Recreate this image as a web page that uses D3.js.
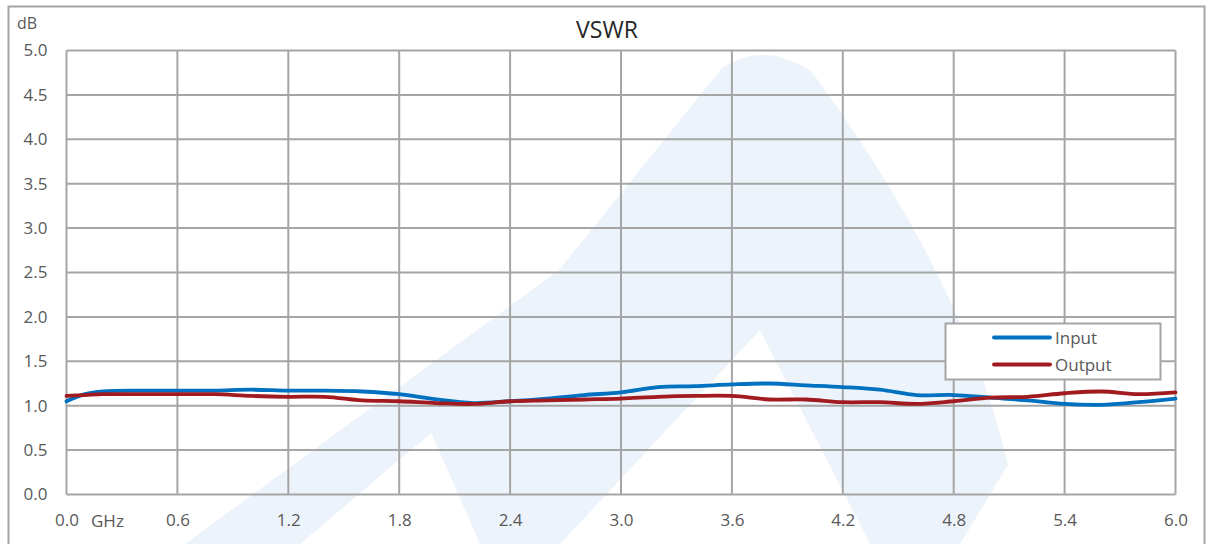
<!DOCTYPE html>
<html lang="en">
<head>
    <meta charset="UTF-8">
    <title>VSWR</title>
    <script src="https://cdn.jsdelivr.net/npm/d3@7"></script>
    <style>
        body { margin: 0; background: white; }
        svg { display: block; font-family: 'Open Sans', sans-serif; }
        .tick text { fill: #595959; font-size: 17px; }
    </style>
</head>
<body>
    <div id="chart"></div>
    <script>
        // Frequency points (GHz)
        const freqs = [0, 0.1, 0.2, 0.4, 0.6, 0.8, 1.0, 1.2, 1.4, 1.6, 1.8, 2.0, 2.2, 2.4, 2.6, 2.8,
            3.0, 3.2, 3.4, 3.6, 3.8, 4.0, 4.2, 4.4, 4.6, 4.8, 5.0, 5.2, 5.4, 5.6, 5.8, 6.0];

        // VSWR readings
        const inputVals = [1.05, 1.13, 1.16, 1.17, 1.17, 1.17, 1.18, 1.17, 1.17, 1.16, 1.13, 1.07, 1.03, 1.05, 1.08, 1.12,
            1.15, 1.21, 1.22, 1.24, 1.25, 1.23, 1.21, 1.18, 1.12, 1.12, 1.09, 1.06, 1.02, 1.01, 1.04, 1.08];
        const outputVals = [1.11, 1.12, 1.13, 1.13, 1.13, 1.13, 1.11, 1.10, 1.10, 1.06, 1.05, 1.03, 1.02, 1.05, 1.06, 1.07,
            1.08, 1.10, 1.11, 1.11, 1.07, 1.07, 1.04, 1.04, 1.02, 1.05, 1.09, 1.10, 1.14, 1.16, 1.13, 1.15];

        const xTicks = [0, 0.6, 1.2, 1.8, 2.4, 3.0, 3.6, 4.2, 4.8, 5.4, 6.0];
        const yTicks = [0, 0.5, 1.0, 1.5, 2.0, 2.5, 3.0, 3.5, 4.0, 4.5, 5.0];

        const series = [
            { name: "Input", values: inputVals, color: "#0070C0" },
            { name: "Output", values: outputVals, color: "#A01A1F" }
        ];

        const width = 1213, height = 544;
        const margin = { left: 66.5, right: 1213 - 1175.5, top: 50.5, bottom: 544 - 494.5 };
        const gridColor = "#A5A5A5";

        const svg = d3.select("#chart").append("svg")
            .attr("width", width).attr("height", height);

        // chart frame
        svg.append("rect")
            .attr("x", 8.5).attr("y", 6.5)
            .attr("width", 1196).attr("height", 560)
            .attr("fill", "white").attr("stroke", gridColor).attr("stroke-width", 2);

        // faint watermark logo
        const wm = svg.append("g").attr("fill", "#EDF3FA");
        wm.append("path").attr("d", "M185,544 L648,205 L680,222 L300,544 Z");
        wm.append("path").attr("d", "M430,430 L722,68 Q765,40 812,72 Q965,280 1008,465 L960,544 L870,544 L760,330 L560,544 L480,544 Z");

        const x = d3.scaleLinear().domain([0, 6]).range([margin.left, width - margin.right]);
        const y = d3.scaleLinear().domain([0, 5]).range([height - margin.bottom, margin.top]);

        // grid
        svg.append("g")
            .selectAll("line.h").data(yTicks).enter().append("line")
            .attr("x1", x(0)).attr("x2", x(6))
            .attr("y1", d => y(d)).attr("y2", d => y(d))
            .attr("stroke", gridColor).attr("stroke-width", 2);
        svg.append("g")
            .selectAll("line.v").data(xTicks).enter().append("line")
            .attr("x1", d => x(d)).attr("x2", d => x(d))
            .attr("y1", y(0)).attr("y2", y(5))
            .attr("stroke", gridColor).attr("stroke-width", 2);

        // axes (labels only)
        const xAxis = svg.append("g")
            .attr("transform", `translate(0,${y(0)})`)
            .call(d3.axisBottom(x).tickValues(xTicks).tickFormat(d3.format(".1f")).tickSize(0).tickPadding(19));
        xAxis.select(".domain").remove();

        const yAxis = svg.append("g")
            .attr("transform", `translate(${x(0)},0)`)
            .call(d3.axisLeft(y).tickValues(yTicks).tickFormat(d3.format(".1f")).tickSize(0).tickPadding(19));
        yAxis.select(".domain").remove();
        svg.selectAll(".tick text").attr("font-family", "'Open Sans', sans-serif");

        svg.append("text").attr("x", 91).attr("y", 527)
            .attr("fill", "#595959").attr("font-size", 17).text("GHz");
        svg.append("text").attr("x", 17).attr("y", 29)
            .attr("fill", "#595959").attr("font-size", 16).text("dB");
        svg.append("text").attr("x", 607).attr("y", 38)
            .attr("text-anchor", "middle").attr("fill", "#262626").attr("font-size", 23).text("VSWR");

        // lines
        const line = d3.line()
            .x((d, i) => x(freqs[i]))
            .y(d => y(d))
            .curve(d3.curveCatmullRom.alpha(0.5));

        svg.append("g").selectAll("path.series").data(series).enter().append("path")
            .attr("fill", "none")
            .attr("stroke", d => d.color)
            .attr("stroke-width", 3.8)
            .attr("stroke-linecap", "round")
            .attr("d", d => line(d.values));

        // legend
        const legend = svg.append("g");
        legend.append("rect")
            .attr("x", 945.5).attr("y", 323.5).attr("width", 215).attr("height", 56)
            .attr("fill", "white").attr("stroke", gridColor).attr("stroke-width", 2);
        series.forEach((s, i) => {
            const ly = 337.5 + i * 27;
            legend.append("line")
                .attr("x1", 994).attr("x2", 1050).attr("y1", ly).attr("y2", ly)
                .attr("stroke", s.color).attr("stroke-width", 3.8).attr("stroke-linecap", "round");
            legend.append("text")
                .attr("x", 1055).attr("y", ly + 6)
                .attr("fill", "#595959").attr("font-size", 17).text(s.name);
        });
    </script>
</body>
</html>
